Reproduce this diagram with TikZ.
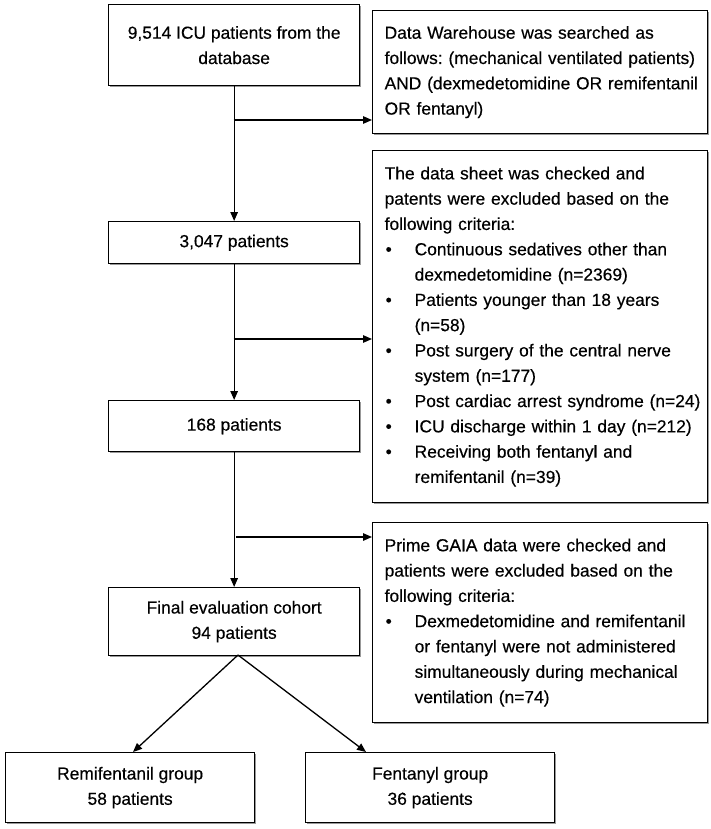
\documentclass[tikz,border=0pt]{standalone}
\usepackage{fontspec}
\setmainfont[FakeBold=0.35]{Liberation Sans}
\usetikzlibrary{arrows.meta,shadows}
\newcommand{\bitem}[1]{\makebox[30pt][l]{\hspace{1pt}\textbullet}\mbox{#1}}
\newcommand{\bcont}[1]{\hspace*{30pt}\mbox{#1}}
\newcommand{\tl}[1]{\mbox{#1}}
\begin{document}
\begin{tikzpicture}[x=1pt,y=-1pt,
  box/.style={draw=black, line width=1.3pt, fill=white, inner sep=0pt,
    drop shadow={shadow xshift=1.2pt,shadow yshift=-1.2pt,fill=black!40,opacity=1},
    font=\fontsize{17.4}{25.3}\selectfont\frenchspacing},
  lbox/.style={box, minimum width=251pt, align=center, anchor=north west},
  rbox/.style={box, minimum width=335pt, text width=311pt, inner xsep=12pt, align=left, anchor=north west},
  gbox/.style={box, minimum width=249pt, minimum height=70pt, align=center, anchor=north west},
  conn/.style={line width=1.3pt},
  arr/.style={conn, -{Triangle[length=9pt,width=7.5pt]}}]
\useasboundingbox (0,0) rectangle (710,829);
% left column
\node[lbox, minimum height=81pt] (n1) at (108,4) {9,514 ICU patients from the\\database};
\node[lbox, minimum height=42pt] (n2) at (108,221) {3,047 patients};
\node[lbox, minimum height=51pt] (n3) at (108,400) {168 patients};
\node[lbox, minimum height=68pt] (n4) at (108,587) {Final evaluation cohort\\94 patients};
% right column
\node[rbox, minimum height=123pt] (a) at (372,10) {\tl{Data Warehouse was searched as}\\\tl{follows: (mechanical ventilated patients)}\\\tl{AND (dexmedetomidine OR remifentanil}\\\tl{OR fentanyl)}};
\node[rbox, minimum height=352pt] (b) at (372,150) {\tl{The data sheet was checked and}\\\tl{patents were excluded based on the}\\\tl{following criteria:}\\
\bitem{Continuous sedatives other than}\\\bcont{dexmedetomidine (n=2369)}\\
\bitem{Patients younger than 18 years}\\\bcont{(n=58)}\\
\bitem{Post surgery of the central nerve}\\\bcont{system (n=177)}\\
\bitem{Post cardiac arrest syndrome (n=24)}\\
\bitem{ICU discharge within 1 day (n=212)}\\
\bitem{Receiving both fentanyl and}\\\bcont{remifentanil (n=39)}};
\node[rbox, minimum height=200pt] (c) at (372,522) {\tl{Prime GAIA data were checked and}\\\tl{patients were excluded based on the}\\\tl{following criteria:}\\
\bitem{Dexmedetomidine and remifentanil}\\\bcont{or fentanyl were not administered}\\\bcont{simultaneously during mechanical}\\\bcont{ventilation (n=74)}};
% groups
\node[gbox] (g1) at (5,752) {Remifentanil group\\58 patients};
\node[gbox] (g2) at (305,752) {Fentanyl group\\36 patients};
% connectors
\draw[arr] (n1.south) -- (n2.north);
\draw[arr] (n2.south) -- (n3.north);
\draw[arr] (n3.south) -- (n4.north);
\coordinate (j1) at (233.5,120);
\coordinate (j2) at (233.5,339);
\coordinate (j3) at (236,537);
\draw[arr] (j1) -- (j1 -| a.west);
\draw[arr] (j2) -- (j2 -| b.west);
\draw[arr] (j3) -- (j3 -| c.west);
\coordinate (top) at (238,655);
\coordinate (t1) at (133,752);
\coordinate (t2) at (366,752);
\draw[arr] (top) -- (t1);
\draw[arr] (top) -- (t2);
\end{tikzpicture}
\end{document}
